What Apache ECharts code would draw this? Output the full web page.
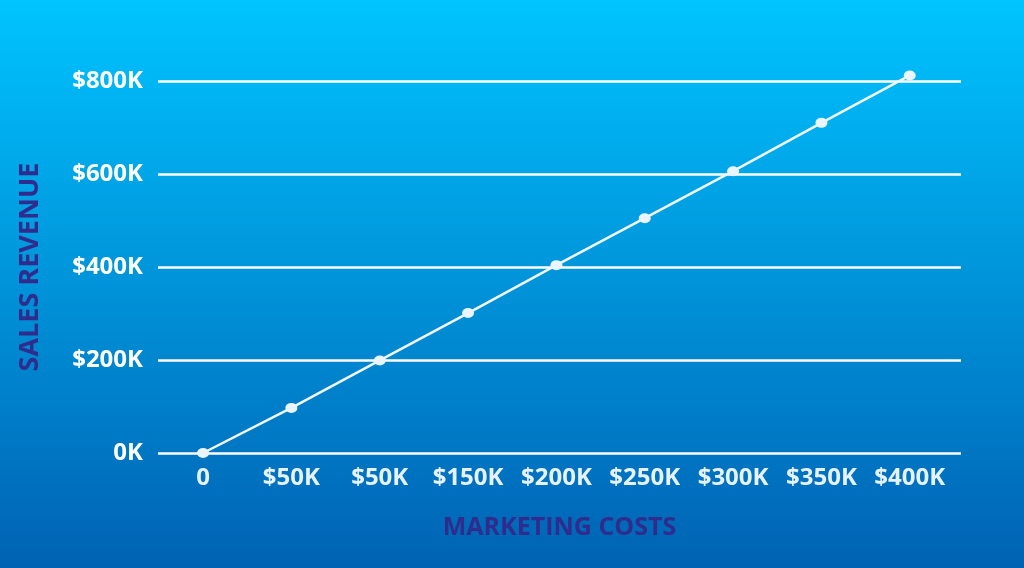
<!DOCTYPE html>
<html>
<head>
<meta charset="utf-8">
<script src="https://cdn.jsdelivr.net/npm/echarts@6/dist/echarts.min.js"></script>
<style>
html,body{margin:0;padding:0;width:1024px;height:568px;overflow:hidden;}
#c{width:1024px;height:568px;}
</style>
</head>
<body>
<div id="c"></div>
<script>
const costs = [0, 50, 100, 150, 200, 250, 300, 350, 400];
const revenue = [0, 97, 199, 301, 404, 505, 606, 710, 812];
const xTickLabels = ['0', '$50K', '$50K', '$150K', '$200K', '$250K', '$300K', '$350K', '$400K'];
const yTicks = [0, 200, 400, 600, 800];
const yTickLabels = ['0K', '$200K', '$400K', '$600K', '$800K'];

const chart = echarts.init(document.getElementById('c'), null, {renderer: 'canvas'});
const fontFamily = '"Open Sans", "Noto Sans", sans-serif';
chart.setOption({
  backgroundColor: new echarts.graphic.LinearGradient(0, 0, 0, 1, [
    {offset: 0, color: '#00C4FF'},
    {offset: 1, color: '#0062B3'}
  ]),
  animation: false,
  grid: {left: 158, right: 63, top: 81, bottom: 115, containLabel: false},
  xAxis: {
    type: 'value',
    min: -25.5,
    max: 429,
    name: 'MARKETING COSTS',
    nameLocation: 'middle',
    nameGap: 62,
    nameTextStyle: {color: '#302C8E', fontSize: 25, fontWeight: 'bold', fontFamily: fontFamily},
    axisLine: {show: false},
    axisTick: {show: false},
    splitLine: {show: false},
    axisLabel: {
      customValues: costs,
      color: '#E6F2FF',
      fontSize: 24,
      fontWeight: 'bold',
      fontFamily: fontFamily,
      margin: 13,
      formatter: function (v) {
        const i = costs.indexOf(v);
        return i >= 0 ? xTickLabels[i] : '';
      }
    }
  },
  yAxis: {
    type: 'value',
    min: 0,
    max: 800,
    interval: 200,
    name: 'SALES REVENUE',
    nameLocation: 'middle',
    nameGap: 114,
    nameTextStyle: {color: '#302C8E', fontSize: 27, fontWeight: 'bold', fontFamily: fontFamily},
    axisLine: {show: false},
    axisTick: {show: false},
    splitLine: {show: true, lineStyle: {color: '#FFFFFF', width: 2.5}},
    axisLabel: {
      color: '#FFFFFF',
      fontSize: 24,
      fontWeight: 'bold',
      fontFamily: fontFamily,
      margin: 15,
      formatter: function (v) {
        const i = yTicks.indexOf(v);
        return i >= 0 ? yTickLabels[i] : '';
      }
    }
  },
  series: [{
    type: 'line',
    data: costs.map((c, i) => [c, revenue[i]]),
    clip: false,
    symbol: 'circle',
    symbolSize: [12, 10],
    showAllSymbol: true,
    itemStyle: {color: '#EAF5FF'},
    lineStyle: {color: '#F2F8FF', width: 2.5},
    z: 5
  }]
});
</script>
</body>
</html>
